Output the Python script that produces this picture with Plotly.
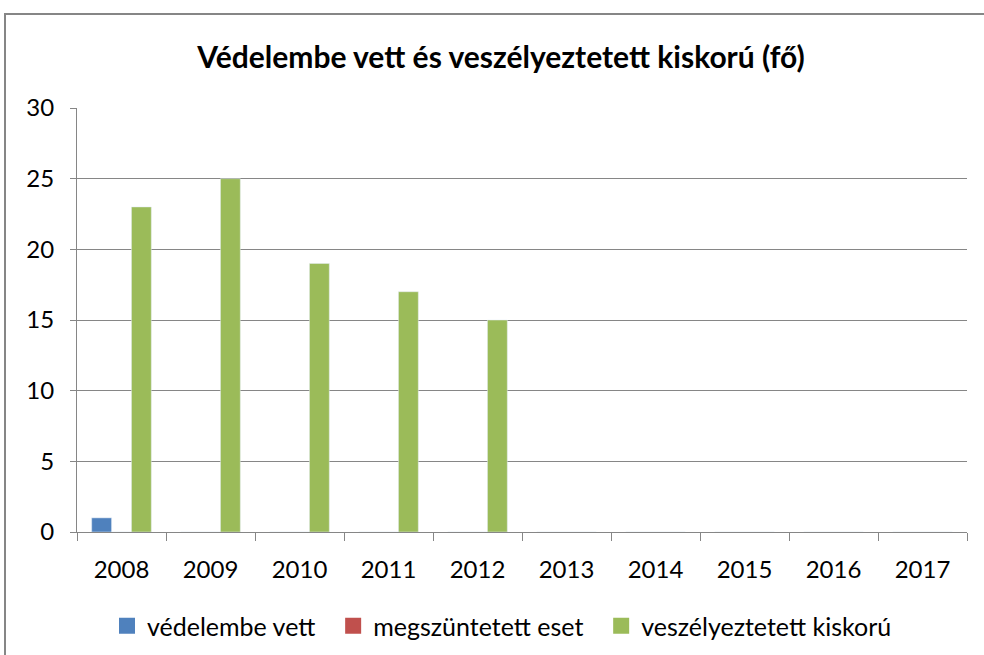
import plotly.graph_objects as go

years = ["2008", "2009", "2010", "2011", "2012", "2013", "2014", "2015", "2016", "2017"]
vedelembe_vett = [1, 0, 0, 0, 0, 0, 0, 0, 0, 0]
megszuntetett_eset = [0, 0, 0, 0, 0, 0, 0, 0, 0, 0]
veszelyeztetett = [23, 25, 19, 17, 15, 0, 0, 0, 0, 0]
y_ticks = [0, 5, 10, 15, 20, 25, 30]
series_names = ["védelembe vett", "megszüntetett eset", "veszélyeztetett kiskorú"]
series_colors = ["#4F81BD", "#C0504D", "#9BBB59"]

FONT = "Lato, 'Open Sans', sans-serif"

fig = go.Figure()
for vals, name, col in zip([vedelembe_vett, megszuntetett_eset, veszelyeztetett], series_names, series_colors):
    fig.add_trace(go.Bar(x=years, y=vals, name=name, marker_color=col, showlegend=False))
# legend entries with larger square markers
for name, col in zip(series_names, series_colors):
    fig.add_trace(go.Scatter(x=[None], y=[None], mode="markers", name=name + "\u00a0\u00a0",
                             marker=dict(symbol="square", size=16, color=col)))

W, H = 984, 655
L, T, R, B = 77, 108, 17, 123
pw, ph = W - L - R, H - T - B

fig.update_layout(
    width=W, height=H,
    margin=dict(l=L, r=R, t=T, b=B, autoexpand=False),
    paper_bgcolor="white", plot_bgcolor="white",
    barmode="group", bargap=0.33, bargroupgap=0,
    font=dict(family=FONT, size=25, color="#000000"),
    title=dict(text="<b>Védelembe vett és veszélyeztetett kiskorú (fő)</b>",
               x=501 / W, xanchor="center", y=1 - 57 / H, yanchor="middle",
               font=dict(family=FONT, size=30, color="#000000")),
    legend=dict(orientation="h", x=(508 - L) / pw, xanchor="center", y=-(626 - (T + ph)) / ph, yanchor="middle",
                font=dict(family=FONT, size=25), itemwidth=30, traceorder="normal",
                itemsizing="trace", tracegroupgap=0),
    showlegend=True,
)
fig.update_xaxes(
    type="category", showgrid=False, showline=True, linecolor="#868686", linewidth=1,
    ticks="outside", tickson="boundaries", ticklen=8, tickcolor="#868686",
    ticklabelstandoff=16, tickfont=dict(family=FONT, size=24, color="#000000"),
)
fig.update_yaxes(
    range=[0, 30], tickvals=y_ticks, showgrid=True, gridcolor="#868686", gridwidth=1,
    showline=True, linecolor="#868686", linewidth=1, ticks="outside", ticklen=6,
    tickcolor="#868686", ticklabelstandoff=11, zeroline=False,
    tickfont=dict(family=FONT, size=24, color="#000000"),
)
fig.add_shape(type="rect", xref="paper", yref="paper",
              x0=(5 - L) / pw, x1=1.2, y0=-0.5, y1=1 + (T - 14) / ph,
              line=dict(color="#868686", width=2), fillcolor="rgba(0,0,0,0)", layer="below")

fig.write_html("out.html", config={"displayModeBar": False},
               post_script="document.body.style.margin='0px';")
